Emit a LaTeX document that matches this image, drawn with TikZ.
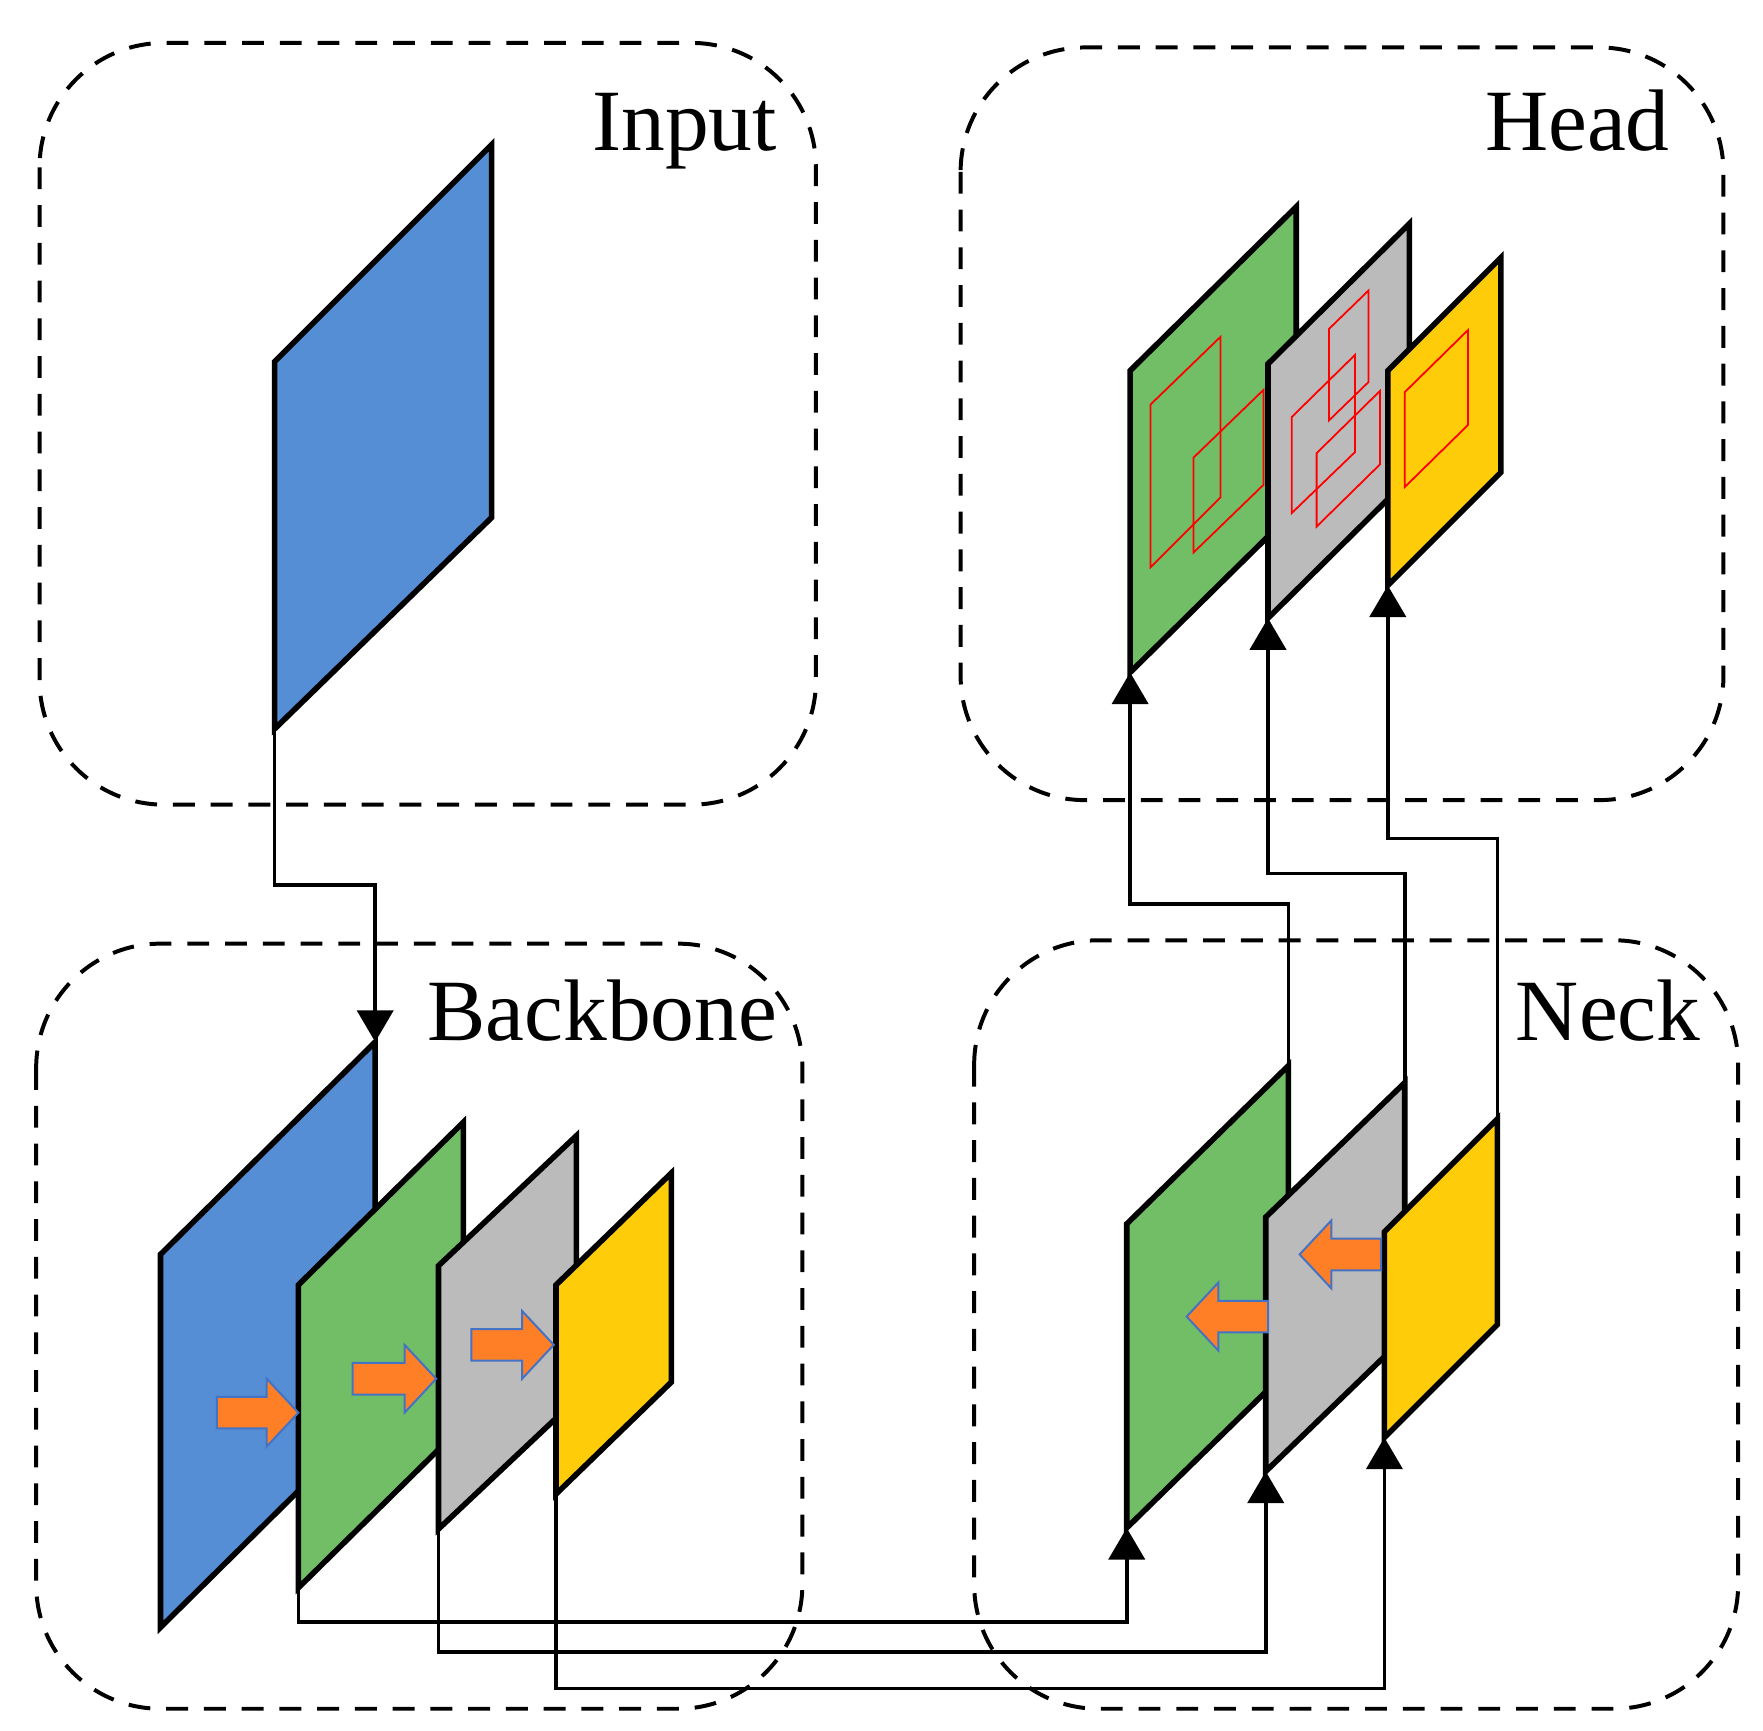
\documentclass[tikz,border=0pt]{standalone}
\usepackage{fontspec}
\setmainfont{Liberation Serif}
\usetikzlibrary{arrows.meta}
\definecolor{pblue}{HTML}{558ED5}
\definecolor{pgreen}{HTML}{72BE66}
\definecolor{pgray}{HTML}{BBBBBB}
\definecolor{pyellow}{HTML}{FFCC0A}
\definecolor{porange}{HTML}{FF7F27}
\definecolor{pedge}{HTML}{4472C4}
\tikzset{
  grp/.style={draw, line width=1pt, dash pattern=on 5.5pt off 4pt, rounded corners=1.1cm},
  panel/.style={draw, line width=1.4pt, line join=miter},
  rbox/.style={draw=red, line width=0.45pt},
  conn/.style={draw, line width=0.9pt},
  tip/.style={-{Triangle[width=0.32cm,length=0.28cm]}},
  lbl/.style={font=\fontsize{22}{26}\selectfont, inner sep=0pt},
  oarr/.style={fill=porange, draw=pedge, line width=0.5pt, line join=miter},
}
% panel: x1, top1, bot1, x2, top2, bot2, color
\newcommand\mypanel[7]{\path[panel,fill=#7] (#1,#2) -- (#4,#5) -- (#4,#6) -- (#1,#3) -- cycle;}
% red box: x1,t1,b1,x2,t2,b2
\newcommand\myrbox[6]{\draw[rbox] (#1,#2) -- (#4,#5) -- (#4,#6) -- (#1,#3) -- cycle;}
% block arrow: tail x, head x, y, direction sign
\newcommand\myarr[4]{\path[oarr] (#1,#3-14) -- (#2-#4*28,#3-14) -- (#2-#4*28,#3-30) -- (#2,#3) -- (#2-#4*28,#3+30) -- (#2-#4*28,#3+14) -- (#1,#3+14) -- cycle;}
\begin{document}
\begin{tikzpicture}[x=0.01cm,y=-0.01cm]
\useasboundingbox (0,0) rectangle (1560,1531);
% groups
\path[grp] (35,38) rectangle (722,712);
\path[grp] (850,42) rectangle (1525,708);
\path[grp] (32,835) rectangle (710,1512);
\path[grp] (862,832) rectangle (1538,1512);
\node[lbl, anchor=base east] (tin) at (688,133) {Input};
\node[lbl, anchor=base east] (thead) at (1478,133) {Head};
\node[lbl, anchor=base] (tbb) at (533,921) {Backbone};
\node[lbl, anchor=base] (tneck) at (1423,921) {Neck};
% input
\mypanel{243}{320}{645}{435}{128}{458}{pblue}
% backbone
\mypanel{142}{1110}{1440}{332}{922}{1252}{pblue}
\mypanel{264}{1137}{1405}{410}{993}{1261}{pgreen}
\mypanel{388}{1120}{1353}{510}{1005}{1238}{pgray}
\mypanel{492}{1137}{1322}{594}{1038}{1223}{pyellow}
\myarr{192}{264}{1250}{1}
\myarr{312}{386}{1220}{1}
\myarr{417}{490}{1190}{1}
% neck
\mypanel{997}{1083}{1352}{1140}{943}{1212}{pgreen}
\mypanel{1120}{1077}{1302}{1243}{958}{1183}{pgray}
\mypanel{1225}{1090}{1272}{1325}{990}{1172}{pyellow}
\myarr{1122}{1050}{1165}{-1}
\myarr{1222}{1150}{1110}{-1}
% head
\mypanel{1000}{328}{595}{1147}{183}{450}{pgreen}
\myrbox{1018}{358}{502}{1080}{298}{440}
\myrbox{1056}{405}{489}{1118}{345}{429}
\mypanel{1122}{322}{547}{1247}{198}{423}{pgray}
\myrbox{1143}{369}{454}{1199}{314}{400}
\myrbox{1176}{291}{372}{1211}{257}{338}
\myrbox{1165}{401}{466}{1221}{346}{411}
\mypanel{1228}{328}{518}{1328}{228}{418}{pyellow}
\myrbox{1243}{347}{431}{1299}{292}{376}
% anchor coordinates
\coordinate (inB) at (243,645);
\coordinate (bbT) at (332,922);
\coordinate (bgB) at (264,1405);
\coordinate (byB) at (388,1353);
\coordinate (bwB) at (492,1322);
\coordinate (ngB) at (997,1352);
\coordinate (nyB) at (1120,1302);
\coordinate (nwB) at (1225,1272);
\coordinate (ngT) at (1140,943);
\coordinate (nyT) at (1243,958);
\coordinate (nwT) at (1325,990);
\coordinate (hgB) at (1000,595);
\coordinate (hyB) at (1122,547);
\coordinate (hwB) at (1228,518);
% connectors
\draw[conn,tip] (inB) |- (332,783) -- (bbT);
\draw[conn,tip] (bgB) |- (997,1435) -- (ngB);
\draw[conn,tip] (byB) |- (1120,1462) -- (nyB);
\draw[conn,tip] (bwB) |- (1225,1494) -- (nwB);
\draw[conn,tip] (ngT) |- (1000,800) -- (hgB);
\draw[conn,tip] (nyT) |- (1122,773) -- (hyB);
\draw[conn,tip] (nwT) |- (1228,742) -- (hwB);
\end{tikzpicture}
\end{document}
